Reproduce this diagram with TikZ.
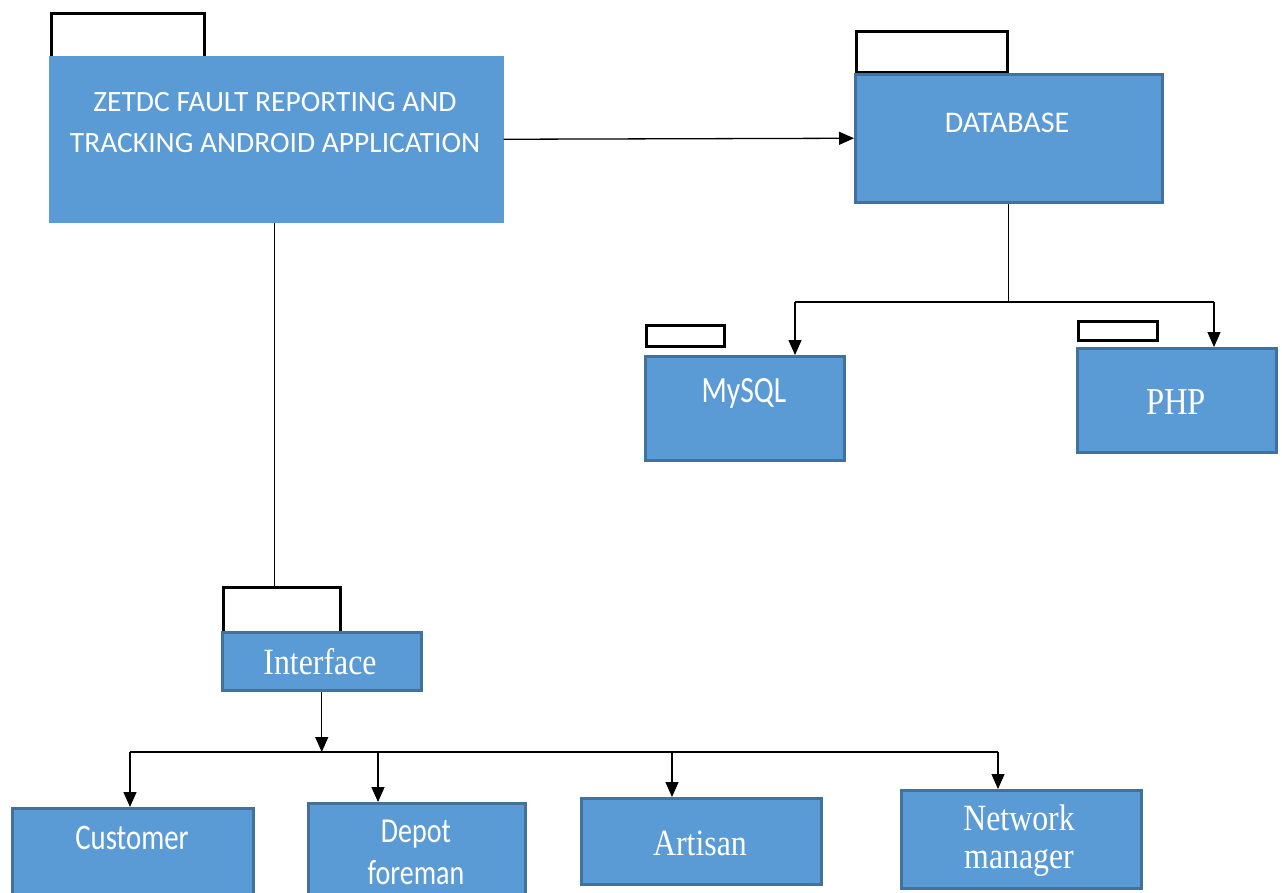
\documentclass[tikz,border=0pt]{standalone}
\usepackage{fontspec}
\usetikzlibrary{arrows.meta}
\newfontfamily\calib{Carlito}
\newfontfamily\calibn[FakeStretch=0.8]{Carlito}
\newfontfamily\tnr[FakeStretch=0.86]{Liberation Serif}
\definecolor{boxblue}{HTML}{5B9BD5}
\definecolor{boxedge}{HTML}{41719C}
\begin{document}
\begin{tikzpicture}[x=1pt,y=-1pt,
  bluebox/.style={draw=boxedge, line width=2.5pt, fill=boxblue, inner sep=0pt, anchor=north west},
  tagbox/.style={draw=black, line width=3pt, fill=white, inner sep=0pt, anchor=north west},
  txt/.style={text=white, align=center, inner sep=0pt},
  conn/.style={line width=1.3pt, draw=black},
  arr/.style={conn, -{Triangle[length=15pt,width=13pt]}}]
\useasboundingbox (0,0) rectangle (1282,892);
% tags
\node[tagbox, minimum width=153pt, minimum height=44pt] (mainTag) at (49.5,11.5) {};
\node[tagbox, minimum width=151pt, minimum height=41pt] (dbTag) at (854.5,29.5) {};
\node[tagbox, minimum width=78pt, minimum height=21pt] (mysqlTag) at (644.5,323.5) {};
\node[tagbox, minimum width=79pt, minimum height=19pt] (phpTag) at (1076.5,319.5) {};
\node[tagbox, minimum width=117pt, minimum height=46pt] (ifaceTag) at (221.5,585.5) {};
% boxes
\node[bluebox, draw=boxblue, minimum width=452pt, minimum height=164pt] (main) at (49,56) {};
\node[bluebox, minimum width=307pt, minimum height=128pt] (db) at (854,73) {};
\node[bluebox, minimum width=199pt, minimum height=104pt] (mysql) at (644,355) {};
\node[bluebox, minimum width=199pt, minimum height=104pt] (php) at (1076,347) {};
\node[bluebox, minimum width=199pt, minimum height=58pt] (iface) at (221,631) {};
\node[bluebox, minimum width=241pt, minimum height=100pt] (cust) at (11,807) {};
\node[bluebox, minimum width=217pt, minimum height=100pt] (depot) at (307,802) {};
\node[bluebox, minimum width=240pt, minimum height=86pt] (artisan) at (580,797) {};
\node[bluebox, minimum width=240pt, minimum height=98pt] (network) at (900,789) {};
% texts
\node[txt, font=\calib\fontsize{29.5}{41}\selectfont] (mainT) at (275,123) {ZETDC FAULT REPORTING AND\\TRACKING ANDROID APPLICATION};
\node[txt, font=\calib\fontsize{30}{34}\selectfont] (dbT) at (1007,123) {DATABASE};
\node[txt, font=\calibn\fontsize{37}{40}\selectfont] (mysqlT) at (744,393) {MySQL};
\node[txt, font=\tnr\fontsize{38}{40}\selectfont] (phpT) at (1176,402) {PHP};
\node[txt, font=\tnr\fontsize{37}{40}\selectfont] (ifaceT) at (320,662) {Interface};
\node[txt, font=\calibn\fontsize{36}{40}\selectfont] (custT) at (132,838) {Customer};
\node[txt, font=\calibn\fontsize{35}{42}\selectfont] (depotT) at (416,852) {Depot\\foreman};
\node[txt, font=\tnr\fontsize{37}{40}\selectfont] (artisanT) at (700,843) {Artisan};
\node[txt, font=\tnr\fontsize{37}{38}\selectfont] (networkT) at (1019,841) {Network\\manager};
% connectors
\draw[arr] (main.east) -- (db.west);
\coordinate (mainB) at ([xshift=-2pt]main.south);
\draw[conn] (mainB) -- (mainB |- ifaceTag.north);
\coordinate (dbJ) at (db.south |- 0,302);
\coordinate (dbL) at (795,302);
\coordinate (dbR) at (1214,302);
\draw[conn] (db.south) -- (dbJ);
\draw[conn] (dbL) -- (dbR);
\draw[arr] (dbL) -- (dbL |- mysql.north);
\draw[arr] (dbR) -- (dbR |- php.north);
\coordinate (ifJ) at (iface.south |- 0,752);
\coordinate (bL) at (130,752);
\coordinate (bR) at (998,752);
\coordinate (bD) at (378,752);
\coordinate (bA) at (672,752);
\draw[arr] (iface.south) -- (ifJ);
\draw[conn] (bL) -- (bR);
\draw[arr] (bL) -- (bL |- cust.north);
\draw[arr] (bD) -- (bD |- depot.north);
\draw[arr] (bA) -- (bA |- artisan.north);
\draw[arr] (bR) -- (bR |- network.north);
\end{tikzpicture}
\end{document}
